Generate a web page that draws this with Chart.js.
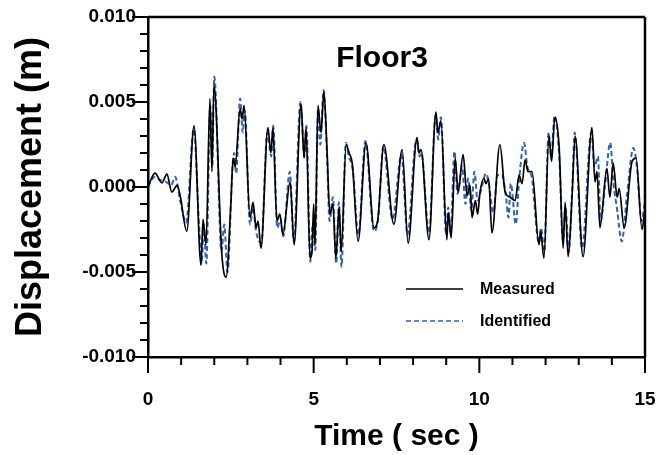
<!DOCTYPE html>
<html>
<head>
<meta charset="utf-8">
<script src="https://cdn.jsdelivr.net/npm/chart.js@4.4.0/dist/chart.umd.min.js"></script>
<style>
  body { margin: 0; background: #fff; }
  #wrap { width: 672px; height: 455px; }
</style>
</head>
<body>
<div id="wrap"><canvas id="floorChart"></canvas></div>
<script>
// Measured response (black solid line), time in sec / displacement in m
const measuredT = [0, 0.21, 0.42, 0.57, 0.72, 0.88, 0.97, 1.17, 1.39, 1.6, 1.66, 1.75, 1.87, 1.93, 1.99,
  2.23, 2.36, 2.5, 2.57, 2.63, 2.78, 2.84, 2.9, 3.08, 3.17, 3.26, 3.32, 3.41, 3.62, 3.71, 3.77, 3.89,
  3.98, 4.07, 4.29, 4.41, 4.62, 4.71, 4.77, 4.89, 4.95, 5.0, 5.04, 5.13, 5.22, 5.31, 5.4, 5.49, 5.58,
  5.67, 5.77, 5.83, 5.98, 6.07, 6.17, 6.34, 6.58, 6.82, 6.93, 7.12, 7.42, 7.67, 7.85, 8.12, 8.18, 8.24,
  8.48, 8.69, 8.75, 8.84, 9.02, 9.06, 9.15, 9.27, 9.36, 9.51, 9.63, 9.72, 9.78, 9.88, 9.95, 10.02,
  10.14, 10.2, 10.28, 10.38, 10.62, 10.78, 10.93, 11.08, 11.2, 11.29, 11.38, 11.47, 11.59, 11.8, 11.85,
  11.95, 12.1, 12.18, 12.28, 12.41, 12.53, 12.59, 12.68, 12.8, 12.89, 13.13, 13.4, 13.49, 13.55, 13.64,
  13.85, 13.94, 14.04, 14.16, 14.22, 14.37, 14.61, 14.73, 14.91, 15.0];
const measuredV = [0, 0.00082, 0.00024, 0.00076, -0.0003, 0.0001, -0.0005, -0.0026, 0.0036, -0.0046, -0.0019, -0.0034, 0.0052, 0.0009, 0.006,
  -0.004, -0.0053, -0.001, 0.0017, 0.0012, 0.0046, 0.004, 0.0048, -0.0018, -0.0009, -0.0024, -0.002, -0.0036, 0.0035, 0.002, 0.0035, -0.002,
  -0.0016, -0.0028, 0.0003, -0.0034, 0.0049, 0.0017, 0.0035, -0.0042, -0.0038, -0.001, -0.0034, 0.0048, 0.0032, 0.0056, 0.0023, -0.0016, -0.001,
  -0.0042, -0.0012, -0.0038, 0.0025, 0.002, 0.0013, -0.0032, 0.0026, -0.0024, -0.002, 0.0025, -0.0022, 0.0022, -0.0033, 0.0029, 0.002, 0.0022,
  -0.0031, 0.0044, 0.0032, 0.0039, -0.0031, -0.0015, -0.003, 0.0017, -0.0003, 0.0019, -0.0005, 0.0001, -0.0018, -0.0008, -0.0016, -0.0003,
  0.0005, 0.0002, 0.0005, -0.0027, 0.0025, -0.0003, -0.0006, -0.0008, 0.0007, 0.0002, 0.0016, 0.0009, 0.0009, -0.0034, -0.0026,
  -0.0042, 0.003, 0.0015, 0.0041, 0.0023, -0.0036, -0.0009, -0.0041, -0.0005, 0.003, -0.0041, 0.0035, 0.0003, 0.0009, -0.0024,
  0.0011, -0.0006, 0.0014, -0.0006, -0.0001, -0.0024, 0.0015, 0.0017, -0.0025, -0.0013];

// Identified response (blue dashed line)
const identifiedT = [0, 0.2, 0.38, 0.55, 0.7, 0.82, 0.97, 1.15, 1.38, 1.55, 1.62, 1.68, 1.76, 1.88, 1.94, 2.0,
  2.22, 2.3, 2.4, 2.55, 2.6, 2.66, 2.78, 2.86, 2.92, 3.08, 3.17, 3.26, 3.42, 3.6, 3.72, 3.78, 3.9, 4.0,
  4.08, 4.28, 4.4, 4.6, 4.72, 4.78, 4.9, 4.97, 5.05, 5.13, 5.2, 5.3, 5.4, 5.48, 5.58, 5.68, 5.76, 5.84,
  5.97, 6.06, 6.18, 6.35, 6.56, 6.82, 6.95, 7.1, 7.38, 7.65, 7.83, 8.1, 8.2, 8.25, 8.48, 8.68, 8.76, 8.84,
  9.0, 9.06, 9.13, 9.25, 9.34, 9.48, 9.58, 9.66, 9.76, 9.85, 9.95, 10.05, 10.2, 10.28, 10.42, 10.55,
  10.68, 10.8, 10.88, 10.95, 11.1, 11.2, 11.35, 11.45, 11.58, 11.8, 11.86, 11.96, 12.09, 12.17, 12.27,
  12.42, 12.52, 12.6, 12.7, 12.8, 12.88, 13.1, 13.38, 13.48, 13.58, 13.66, 13.8, 13.95, 14.05, 14.15,
  14.3, 14.45, 14.65, 14.75, 14.9, 15.0];
const identifiedV = [0, 0.0006, 0.0004, 0.0003, 0.0001, 0.0006, -0.0008, -0.0021, 0.0034, -0.0026, -0.0045, -0.0022, -0.0045, 0.0048, 0.0012, 0.0065,
  -0.0038, -0.0022, -0.005, 0.0012, 0.002, 0.0008, 0.0052, 0.0032, 0.0045, -0.0022, -0.0012, -0.0026, -0.0033, 0.0032, 0.0018, 0.0036, -0.0024, -0.0019,
  -0.0029, 0.0009, -0.0032, 0.005, 0.0018, 0.0036, -0.0044, -0.0022, -0.0037, 0.0046, 0.0025, 0.0057, 0.002, -0.002, -0.0006, -0.0045, -0.0009, -0.0047,
  0.0026, 0.0018, 0.001, -0.0028, 0.0027, -0.0026, -0.0018, 0.0024, -0.0019, 0.0019, -0.0028, 0.0028, 0.0018, 0.002, -0.0027, 0.0042, 0.0028, 0.0041,
  -0.0028, -0.0012, -0.0027, 0.0021, -0.0004, 0.0012, -0.001, 0.0005, -0.0014, 0.0009, -0.0008, -0.0002, 0.0008, 0.0003, -0.0015, 0.0007,
  0.0007, -0.0005, -0.0018, 0.0002, -0.0022, 0.0004, 0.0026, 0.0012, 0.0006, -0.0033, -0.0024, -0.0038, 0.0032, 0.0018, 0.0042,
  0.0015, -0.0032, -0.0012, -0.0038, -0.0003, 0.0032, -0.0036, 0.0032, 0.0012, 0.0018, -0.002, 0.0002, 0.0026, 0.0002, -0.0012,
  -0.0032, -0.0006, 0.0023, 0.0013, -0.002, -0.0008];

const xTickLabels = [0, 5, 10, 15];
const yTickLabels = [-0.010, -0.005, 0.000, 0.005, 0.010];

const BLUE = '#2f63b4';

function toPoints(ts, vs) {
    return ts.map((t, i) => ({ x: t, y: vs[i] }));
}

// Frame (top/right), tick marks, title and inside legend
const decorPlugin = {
    id: 'decor',
    afterDraw(chart) {
        const ctx = chart.ctx;
        const a = chart.chartArea;
        const xs = chart.scales.x, ys = chart.scales.y;
        ctx.save();
        ctx.strokeStyle = '#000';
        ctx.lineWidth = 2.5;
        ctx.beginPath();
        ctx.moveTo(a.left, a.top); ctx.lineTo(a.right, a.top);
        ctx.moveTo(a.right, a.top); ctx.lineTo(a.right, a.bottom);
        ctx.stroke();

        ctx.lineWidth = 2;
        ctx.beginPath();
        xs.ticks.forEach(tk => {
            const px = xs.getPixelForValue(tk.value);
            const len = xTickLabels.includes(tk.value) ? 16 : 8;
            ctx.moveTo(px, a.bottom); ctx.lineTo(px, a.bottom + len);
        });
        ys.ticks.forEach(tk => {
            const py = ys.getPixelForValue(tk.value);
            const major = Math.round(tk.value * 1000) % 5 === 0;
            const len = major ? 16 : 8;
            ctx.moveTo(a.left, py); ctx.lineTo(a.left - len, py);
        });
        ctx.stroke();

        // panel title
        ctx.fillStyle = '#000';
        ctx.font = 'bold 30px "Liberation Sans", Arial, sans-serif';
        ctx.textAlign = 'center';
        ctx.textBaseline = 'middle';
        ctx.fillText('Floor3', 382, 59);

        // legend
        ctx.lineWidth = 1.6;
        ctx.beginPath();
        ctx.moveTo(406, 289); ctx.lineTo(463, 289);
        ctx.stroke();
        ctx.strokeStyle = BLUE;
        ctx.setLineDash([5, 3]);
        ctx.beginPath();
        ctx.moveTo(406, 321); ctx.lineTo(463, 321);
        ctx.stroke();
        ctx.setLineDash([]);
        ctx.font = 'bold 16px "Liberation Sans", Arial, sans-serif';
        ctx.textAlign = 'left';
        ctx.fillText('Measured', 480, 290);
        ctx.fillText('Identified', 480, 322);
        ctx.restore();
    }
};

const ctx = document.getElementById('floorChart').getContext('2d');
new Chart(ctx, {
    type: 'line',
    data: {
        datasets: [
            {
                label: 'Measured',
                data: toPoints(measuredT, measuredV),
                borderColor: '#000',
                borderWidth: 1.7,
                pointRadius: 0,
                cubicInterpolationMode: 'monotone',
                fill: false
            },
            {
                label: 'Identified',
                data: toPoints(identifiedT, identifiedV),
                borderColor: BLUE,
                borderWidth: 2,
                borderDash: [5, 3],
                pointRadius: 0,
                cubicInterpolationMode: 'monotone',
                fill: false
            }
        ]
    },
    options: {
        responsive: true,
        maintainAspectRatio: false,
        animation: false,
        layout: { padding: { left: 0, top: 17, right: 27, bottom: 0 } },
        plugins: {
            legend: { display: false },
            tooltip: { enabled: false }
        },
        scales: {
            x: {
                type: 'linear',
                min: 0,
                max: 15,
                afterFit: s => { s.height = 98; },
                border: { display: true, color: '#000', width: 2.5 },
                // invisible tick lines only push the labels down
                grid: { drawOnChartArea: false, drawTicks: true, tickLength: 29, tickColor: 'rgba(0,0,0,0)' },
                ticks: {
                    stepSize: 1,
                    autoSkip: false,
                    maxRotation: 0,
                    padding: 2,
                    color: '#000',
                    font: { family: '"Liberation Sans", Arial, sans-serif', size: 19, weight: 'bold' },
                    callback: v => xTickLabels.includes(v) ? String(v) : ''
                },
                title: {
                    display: true,
                    text: 'Time ( sec )',
                    color: '#000',
                    font: { family: '"Liberation Sans", Arial, sans-serif', size: 30, weight: 'bold' },
                    padding: { top: 0, bottom: 0 }
                }
            },
            y: {
                type: 'linear',
                min: -0.01,
                max: 0.01,
                afterFit: s => { s.width = 148; },
                border: { display: true, color: '#000', width: 2.5 },
                grid: { drawOnChartArea: false, drawTicks: true, tickLength: 10, tickColor: 'rgba(0,0,0,0)' },
                ticks: {
                    stepSize: 0.001,
                    autoSkip: false,
                    padding: 2,
                    color: '#000',
                    font: { family: '"Liberation Sans", Arial, sans-serif', size: 19, weight: 'bold' },
                    callback: v => {
                        const k = Math.round(v * 1000);
                        const hit = yTickLabels.find(l => Math.round(l * 1000) === k);
                        return (hit !== undefined && k % 5 === 0) ? hit.toFixed(3) : '';
                    }
                },
                title: {
                    display: true,
                    text: 'Displacement (m)',
                    color: '#000',
                    font: { family: '"Liberation Sans", Arial, sans-serif', size: 36, weight: 'bold' },
                    padding: { top: 9, bottom: 0 }
                }
            }
        }
    },
    plugins: [decorPlugin]
});
</script>
</body>
</html>
